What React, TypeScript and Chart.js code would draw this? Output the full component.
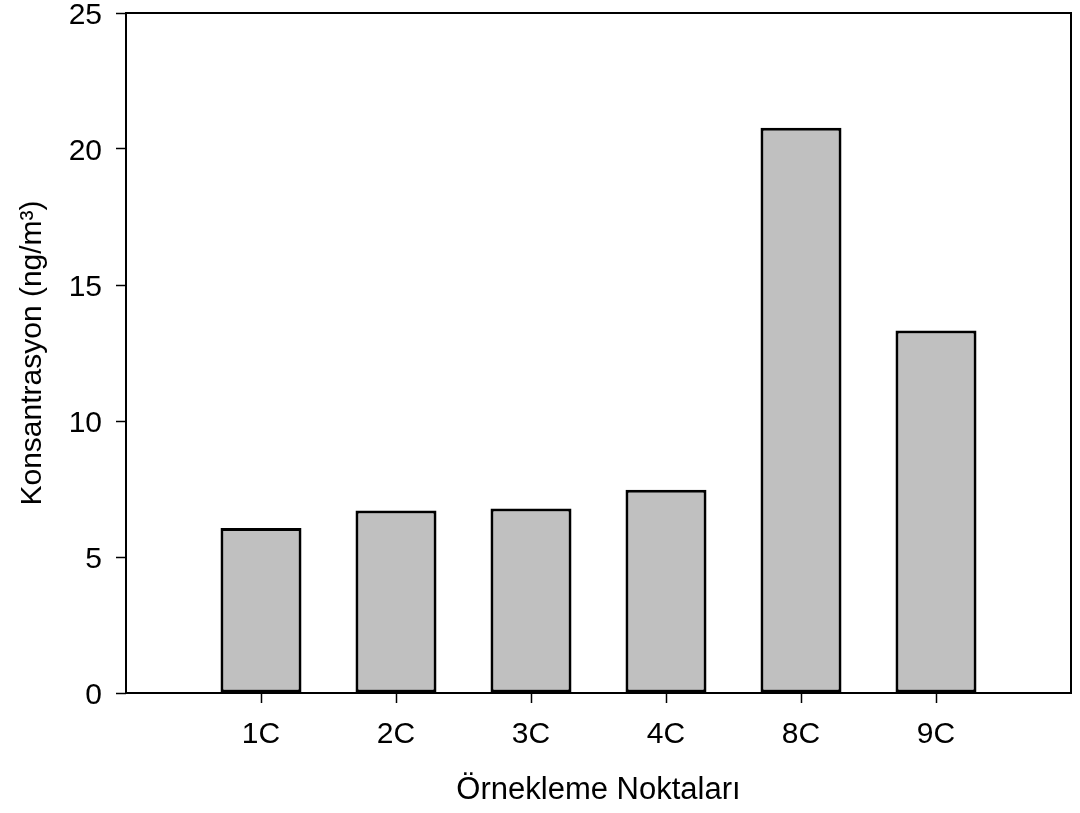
import React, { useEffect, useRef } from "react";
import { Chart, registerables } from "chart.js";

Chart.register(...registerables);

const categories = ["1C", "2C", "3C", "4C", "8C", "9C"];
const values = [6.07, 6.71, 6.78, 7.47, 20.78, 13.33];
const yTicks = [0, 5, 10, 15, 20, 25];
const xTitle = "Örnekleme Noktaları";
const yTitle = "Konsantrasyon (ng/m³)";

const FONT = "'Liberation Sans', Arial, Helvetica, sans-serif";

export default function App() {
  const ref = useRef<HTMLCanvasElement | null>(null);

  useEffect(() => {
    if (!ref.current) return;
    const labels = ["", ...categories, ""];
    const data = [null, ...values, null];
    const lastIdx = labels.length - 1;

    const framePlugin = {
      id: "frame",
      afterDraw(chart: any) {
        const { ctx, chartArea } = chart;
        ctx.save();
        ctx.strokeStyle = "#000";
        ctx.lineWidth = 2;
        ctx.strokeRect(chartArea.left, chartArea.top, chartArea.right - chartArea.left, chartArea.bottom - chartArea.top);
        ctx.restore();
      },
    };

    const chart = new Chart(ref.current, {
      type: "bar",
      data: {
        labels,
        datasets: [
          {
            data,
            backgroundColor: "#c0c0c0",
            borderColor: "#000",
            borderWidth: 3,
            borderSkipped: false,
            categoryPercentage: 1,
            barPercentage: 0.6,
          },
        ],
      },
      options: {
        animation: false,
        responsive: false,
        devicePixelRatio: 1,
        layout: { padding: { top: 13, right: 9, left: 0, bottom: 0 } },
        plugins: {
          legend: { display: false },
          tooltip: { enabled: false },
        },
        scales: {
          x: {
            type: "category",
            offset: false,
            border: { display: false },
            grid: {
              offset: false,
              drawOnChartArea: false,
              drawTicks: true,
              tickLength: 10,
              tickWidth: 1.5,
              tickColor: (ctx: any) => (ctx.index === 0 || ctx.index === lastIdx ? "rgba(0,0,0,0)" : "#000"),
            },
            ticks: {
              color: "#000",
              font: { family: FONT, size: 30 },
              padding: 14,
              maxRotation: 0,
              autoSkip: false,
            },
            title: {
              display: true,
              text: xTitle,
              color: "#000",
              font: { family: FONT, size: 31 },
              padding: { top: 0, bottom: 4 },
            },
            afterFit(scale: any) {
              scale.height = 120;
              scale.paddingLeft = 0;
              scale.paddingRight = 0;
            },
          },
          y: {
            min: 0,
            max: 25,
            border: { display: false },
            grid: {
              drawOnChartArea: false,
              drawTicks: true,
              tickLength: 10,
              tickWidth: 1.5,
              tickColor: "#000",
            },
            afterBuildTicks(scale: any) {
              scale.ticks = yTicks.map((v) => ({ value: v }));
            },
            ticks: {
              color: "#000",
              font: { family: FONT, size: 30 },
              padding: 14,
              labelOffset: 3,
            },
            title: {
              display: true,
              text: yTitle,
              color: "#000",
              font: { family: FONT, size: 30 },
              padding: { top: 15, bottom: 0 },
            },
            afterFit(scale: any) {
              scale.width = 126;
              scale.paddingTop = 0;
              scale.paddingBottom = 0;
            },
          },
        },
      },
      plugins: [framePlugin],
    });
    return () => chart.destroy();
  }, []);

  return (
    <div style={{ position: "absolute", left: 0, top: 0, width: 1080, height: 813, background: "#fff" }}>
      <canvas ref={ref} width={1080} height={813} style={{ display: "block", width: 1080, height: 813 }} />
    </div>
  );
}
